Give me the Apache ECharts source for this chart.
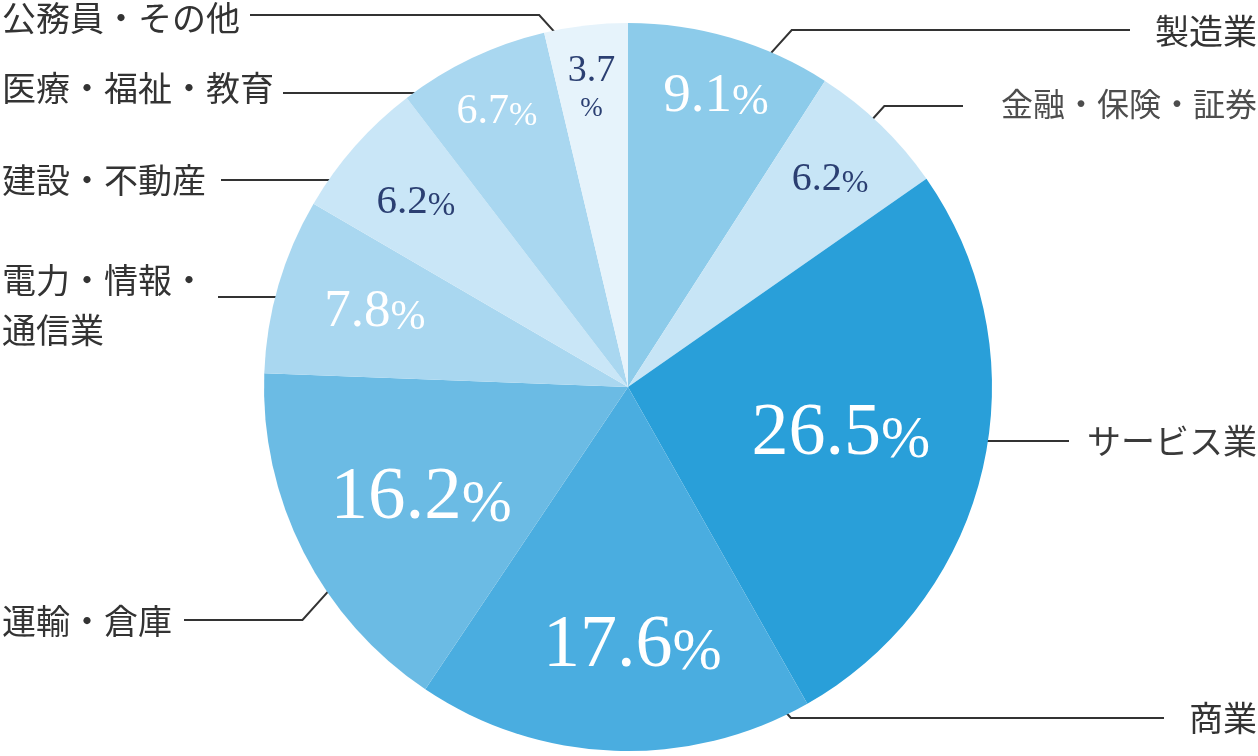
<!DOCTYPE html>
<html>
<head>
<meta charset="utf-8">
<script src="https://cdn.jsdelivr.net/npm/echarts@6/dist/echarts.min.js"></script>
<style>
html,body{margin:0;padding:0;background:#ffffff;}
#main{width:1258px;height:756px;}
</style>
</head>
<body>
<div id="main"></div>
<script>
// ---------- data ----------
const categories = ['製造業', '金融・保険・証券', 'サービス業', '商業', '運輸・倉庫', '電力・情報・通信業', '建設・不動産', '医療・福祉・教育', '公務員・その他'];
const shares = [9.1, 6.2, 26.5, 17.6, 16.2, 7.8, 6.2, 6.7, 3.7];
const outerLabelTexts = ['製造業', '金融・保険・証券', 'サービス業', '商業', '運輸・倉庫', '電力・情報・\n通信業', '建設・不動産', '医療・福祉・教育', '公務員・その他'];

// ---------- styles ----------
const sliceColors = ['#8ccbea', '#c7e5f6', '#299fd9', '#4aade0', '#6bbbe4', '#a9d7f0', '#c9e6f7', '#a9d7f0', '#e6f3fb'];
const valueTextColors = ['#ffffff', '#2b3f72', '#ffffff', '#ffffff', '#ffffff', '#ffffff', '#2b3f72', '#ffffff', '#2b3f72'];
const valueFontSizes = [55, 40, 74, 74, 75, 53, 41, 42, 38];
const percentBelow = [false, false, false, false, false, false, false, false, true];
const SERIF = '"Liberation Serif", "DejaVu Serif", serif';
const SANS_JP = '"Noto Sans CJK JP", "Noto Sans", sans-serif';

// ---------- layout ----------
const CX = 628, CY = 387, R = 364;
const LEFT_X = 2, RIGHT_X = 1257;
// value labels: radial position (fraction of radius) and small angular nudge (deg)
const valueRadius = [0.833, 0.795, 0.599, 0.712, 0.645, 0.725, 0.773, 0.837, 0.829];
const valueAngleShift = [-0.5, -0.4, 0.3, 3.1, 1.2, -0.3, 0.3, 0.1, 0.3];
// outer labels
const outerSide = ['right', 'right', 'right', 'right', 'left', 'left', 'left', 'left', 'left'];
const outerLabelY = [31, 104, 441, 718, 621, 305, 180, 88, 18];
const outerLineY = [30, 106, 441, 718, 620, 297, 180, 93, 15];
const outerAnchor = [[67.3, 0.974], [47.6, 0.970], [-9.4, 0.908], [-64.5, 0.971], [-146.1, 0.970], [165.4, 0.979], [143.9, 0.965], [122.9, 0.962], [100.8, 0.970]];
const outerGap = [25, 38, 18, 25, 12, 12, 15, 9, 10];
const outerFontSize = [34, 32, 34, 34, 34, 34, 34, 34, 34];
const outerColor = ['#333333', '#4d4d4d', '#3a3a3a', '#333333', '#333333', '#333333', '#333333', '#333333', '#333333'];

const total = shares.reduce((a, b) => a + b, 0);
const midAngles = [];
(function () {
  let acc = 0;
  shares.forEach(v => { midAngles.push(90 - 360 * (acc + v / 2) / total); acc += v; });
})();

function richFor(i) {
  const F = valueFontSizes[i];
  const Fp = percentBelow[i] ? Math.round(F * 0.72) : Math.round(F * 0.8);
  const c = valueTextColors[i];
  return {
    n: { fontFamily: SERIF, fontSize: F, lineHeight: F, color: c, verticalAlign: 'bottom' },
    p: {
      fontFamily: SERIF, fontSize: Fp, color: c, verticalAlign: 'bottom',
      lineHeight: percentBelow[i] ? Math.round(Fp * 1.2) : Math.round(F - 0.68 * (F - Fp))
    }
  };
}

const innerData = shares.map((v, i) => ({
  name: categories[i],
  value: v,
  itemStyle: { color: sliceColors[i] },
  label: { rich: richFor(i) }
}));

const outerData = shares.map((v, i) => ({
  name: categories[i],
  value: v,
  label: { fontSize: outerFontSize[i], color: outerColor[i] }
}));

const chart = echarts.init(document.getElementById('main'), null, { renderer: 'canvas' });

const option = {
  animation: false,
  backgroundColor: '#ffffff',
  textStyle: { fontFamily: SANS_JP },
  series: [
    {
      type: 'pie',
      center: [CX, CY],
      radius: R,
      startAngle: 90,
      clockwise: true,
      silent: true,
      avoidLabelOverlap: false,
      itemStyle: { borderWidth: 0, borderColor: 'transparent' },
      label: {
        show: true,
        position: 'inside',
        formatter: p => {
          const s = p.value.toFixed(1);
          return percentBelow[p.dataIndex] ? '{n|' + s + '}\n{p|%}' : '{n|' + s + '}{p|%}';
        }
      },
      labelLine: { show: false },
      labelLayout: p => {
        const i = p.dataIndex;
        const a = (midAngles[i] + valueAngleShift[i]) * Math.PI / 180;
        const r = valueRadius[i] * R;
        return { x: CX + r * Math.cos(a), y: CY - r * Math.sin(a), align: 'center', verticalAlign: 'middle' };
      },
      data: innerData
    },
    {
      type: 'pie',
      center: [CX, CY],
      radius: R,
      startAngle: 90,
      clockwise: true,
      silent: true,
      avoidLabelOverlap: false,
      itemStyle: { color: 'rgba(0,0,0,0)', borderWidth: 0, borderColor: 'transparent' },
      label: {
        show: true,
        position: 'outside',
        fontFamily: SANS_JP,
        fontSize: 34,
        lineHeight: 50,
        color: '#333333',
        formatter: p => outerLabelTexts[p.dataIndex]
      },
      labelLine: { show: true, length: 8, length2: 8, smooth: false, lineStyle: { color: '#333333', width: 2 } },
      labelLayout: p => {
        const i = p.dataIndex;
        const side = outerSide[i];
        const w = p.labelRect.width;
        const ang = outerAnchor[i][0] * Math.PI / 180;
        const rr = outerAnchor[i][1] * R;
        const ax = CX + rr * Math.cos(ang);
        const ay = CY - rr * Math.sin(ang);
        const ly = outerLineY[i];
        const dir = side === 'left' ? -1 : 1;
        const ex = ax + dir * Math.abs(ly - ay) * 0.9;
        const lx = side === 'left' ? LEFT_X : RIGHT_X;
        const endX = side === 'left' ? lx + w + outerGap[i] : lx - w - outerGap[i];
        return {
          x: lx, y: outerLabelY[i], align: side, verticalAlign: 'middle',
          labelLinePoints: [[ax, ay], [ex, ly], [endX, ly]]
        };
      },
      data: outerData
    }
  ]
};
chart.setOption(option);
</script>
</body>
</html>
